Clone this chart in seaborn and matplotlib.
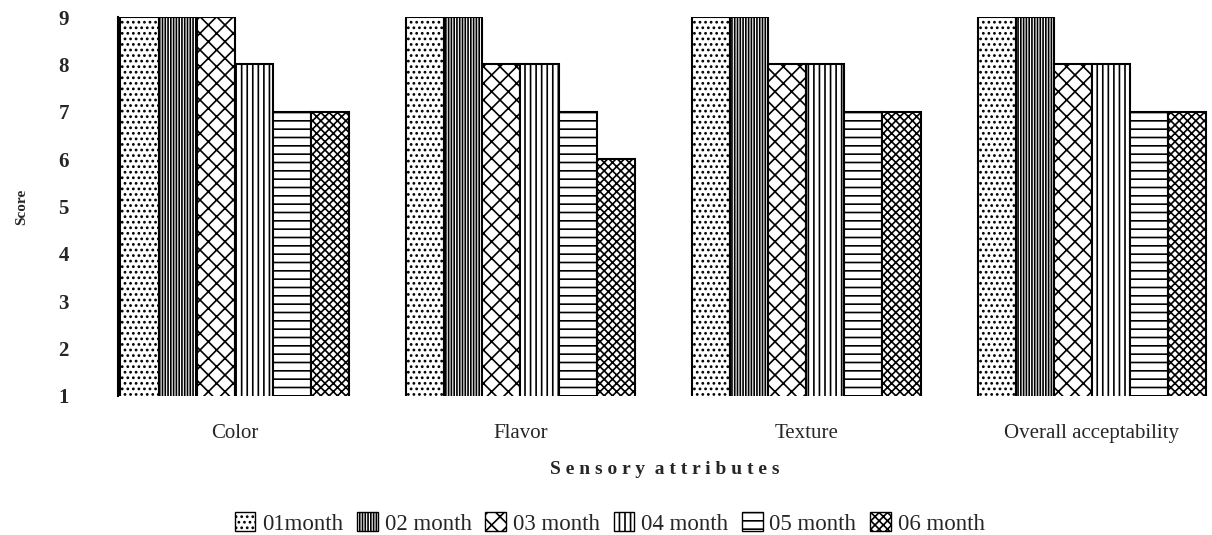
import matplotlib
matplotlib.use("Agg")
import matplotlib.pyplot as plt
import seaborn as sns
import pandas as pd
from matplotlib.patches import Patch

attributes = ["Color", "Flavor", "Texture", "Overall acceptability"]
months = ["01month", "02 month", "03 month", "04 month", "05 month", "06 month"]
m01 = [9, 9, 9, 9]
m02 = [9, 9, 9, 9]
m03 = [9, 8, 8, 8]
m04 = [8, 8, 8, 8]
m05 = [7, 7, 7, 7]
m06 = [7, 6, 7, 7]
series = [m01, m02, m03, m04, m05, m06]

rows = []
for m, vals in zip(months, series):
    for a, v in zip(attributes, vals):
        rows.append({"Attribute": a, "Month": m, "Score": v})
df = pd.DataFrame(rows)

sns.set_theme(style="white")
plt.rcParams["font.family"] = ["Liberation Serif", "DejaVu Serif"]
plt.rcParams["hatch.linewidth"] = 1.2

fig = plt.figure(figsize=(12.12, 5.35), dpi=100)
ax = fig.add_axes([0.097, 0.26, 0.903, 0.708])

hatches = ["...", "||||||", "xx", "|||", "--", "xxxx"]
sns.barplot(data=df, x="Attribute", y="Score", hue="Month", hue_order=months,
            order=attributes, palette=["white"] * 6, edgecolor="black",
            linewidth=1.5, width=0.8, ax=ax, legend=False, bottom=0)

for i, container in enumerate(ax.containers):
    for bar in container:
        bar.set_hatch(hatches[i])
        bar.set_edgecolor("black")
        bar.set_facecolor("white")

ax.set_ylim(1, 9)
ax.set_xlim(-0.41, 3.42)
ax.set_yticks(range(1, 10))
ax.tick_params(axis="y", labelsize=15, length=0, pad=35)
ax.tick_params(axis="x", labelsize=15, length=0, pad=20)
for lbl in ax.get_yticklabels():
    lbl.set_fontweight("bold")
ax.set_ylabel("Score", fontsize=11, fontweight="bold", labelpad=22)
ax.set_xlabel("S e n s o r y  a t t r i b u t e s", fontsize=14, fontweight="bold", labelpad=13)
for s in ["top", "right", "bottom"]:
    ax.spines[s].set_visible(False)
ax.spines["left"].set_color("black")
ax.spines["left"].set_linewidth(1.5)

handles = [Patch(facecolor="white", edgecolor="black", hatch=h, label=m)
           for h, m in zip(hatches, months)]
fig.legend(handles=handles, loc="lower center", ncol=6, frameon=False,
           fontsize=16.5, bbox_to_anchor=(0.503, -0.038), handlelength=0.9,
           handleheight=0.9, handletextpad=0.3, columnspacing=0.6)

fig.savefig("out.png", dpi=100)
